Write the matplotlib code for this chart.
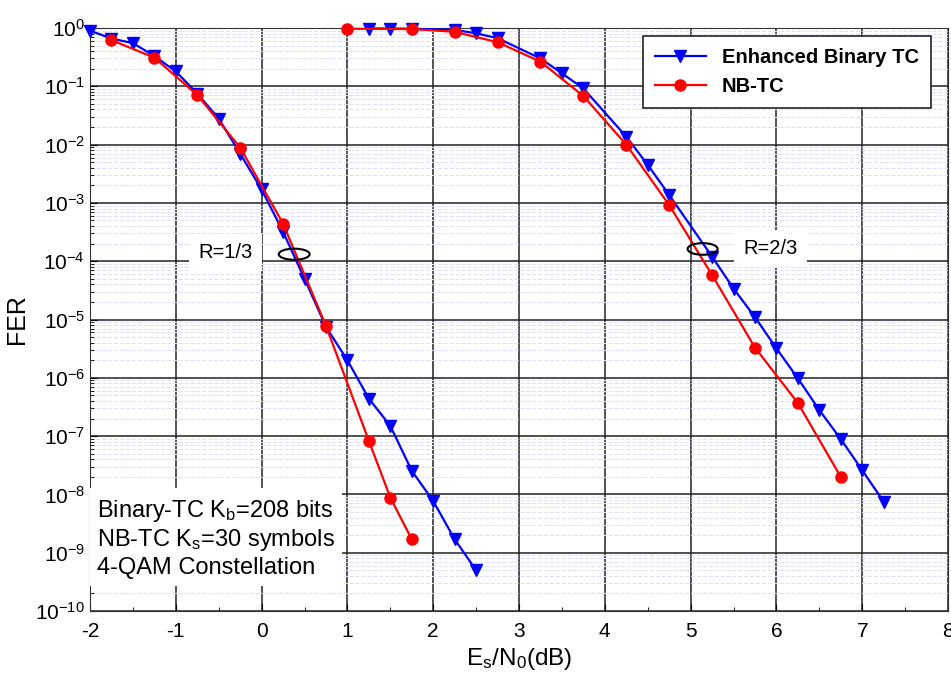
import matplotlib.pyplot as plt
from matplotlib.patches import Ellipse
from matplotlib.ticker import LogLocator, MultipleLocator, NullFormatter

plt.rcParams['font.family'] = 'Liberation Sans'
plt.rcParams['mathtext.fontset'] = 'custom'
plt.rcParams['mathtext.rm'] = 'Liberation Sans'
plt.rcParams['mathtext.it'] = 'Liberation Sans:italic'
plt.rcParams['axes.unicode_minus'] = False

# R=1/3
snr_bin_13 = [-2, -1.75, -1.5, -1.25, -1, -0.75, -0.5, -0.25, 0, 0.25, 0.5, 0.75,
              1, 1.25, 1.5, 1.75, 2, 2.25, 2.5]
fer_bin_13 = [0.9, 0.66, 0.55, 0.33, 0.18, 0.075, 0.028, 0.007, 1.7e-3, 3.2e-4, 5.0e-5, 7.5e-6,
              2.0e-6, 4.4e-7, 1.5e-7, 2.55e-8, 7.7e-9, 1.7e-9, 5.0e-10]
snr_nb_13 = [-1.75, -1.25, -0.75, -0.25, 0.25, 0.75, 1.25, 1.5, 1.75]
fer_nb_13 = [0.62, 0.31, 0.071, 0.0089, 4.4e-4, 7.8e-6, 8.3e-8, 8.8e-9, 1.7e-9]

# R=2/3
snr_bin_23 = [1.25, 1.5, 1.75, 2.25, 2.5, 2.75, 3.25, 3.5, 3.75, 4.25, 4.5, 4.75,
              5.25, 5.5, 5.75, 6, 6.25, 6.5, 6.75, 7, 7.25]
fer_bin_23 = [0.98, 0.98, 0.97, 0.93, 0.81, 0.67, 0.30, 0.167, 0.092, 0.0137, 0.0045, 1.37e-3,
              1.2e-4, 3.4e-5, 1.1e-5, 3.2e-6, 9.8e-7, 2.8e-7, 8.9e-8, 2.6e-8, 7.5e-9]
snr_nb_23 = [1.0, 1.75, 2.25, 2.75, 3.25, 3.75, 4.25, 4.75, 5.25, 5.75, 6.25, 6.75]
fer_nb_23 = [0.97, 0.96, 0.86, 0.57, 0.265, 0.068, 0.010, 9.2e-4, 5.8e-5, 3.3e-6, 3.7e-7, 2.0e-8]

fig = plt.figure(figsize=(9.51, 6.75), dpi=100)
ax = fig.add_axes([90/951, 1-611/675, 858/951, 583/675])

blue = dict(color='#0000ff', marker='v', markersize=8.5, linewidth=1.6, clip_on=False, zorder=4)
red = dict(color='#ff0000', marker='o', markersize=8, linewidth=1.6, clip_on=False, zorder=5)
ax.plot(snr_bin_13, fer_bin_13, label='Enhanced Binary TC', **blue)
ax.plot(snr_bin_23, fer_bin_23, **blue)
ax.plot(snr_nb_13, fer_nb_13, label='NB-TC', **red)
ax.plot(snr_nb_23, fer_nb_23, **red)

ax.set_yscale('log')
ax.set_xlim(-2, 8)
ax.set_ylim(1e-10, 1)
ax.xaxis.set_major_locator(MultipleLocator(1))
ax.xaxis.set_minor_locator(MultipleLocator(0.5))
ax.yaxis.set_major_locator(LogLocator(base=10, numticks=20))
ax.yaxis.set_minor_locator(LogLocator(base=10, subs=range(2, 10), numticks=20))
ax.yaxis.set_minor_formatter(NullFormatter())
ax.tick_params(which='both', direction='in')
ax.tick_params(axis='x', labelsize=15, pad=8)
ax.tick_params(axis='y', labelsize=15)
ax.tick_params(which='major', length=5)
ax.tick_params(which='minor', length=3)

ax.grid(which='major', axis='both', color='#222222', linewidth=1.1)
ax.grid(which='minor', axis='y', color='#e0e0f8', linestyle='--', linewidth=0.8)
ax.set_axisbelow(True)
for s in ax.spines.values():
    s.set_color('#333333')

ax.set_ylabel('FER', fontsize=18)
ax.yaxis.set_label_coords(-0.071, 0.5)
ax.set_xlabel(r'E$_\mathrm{s}$/N$_0$(dB)', fontsize=17.5)
ax.xaxis.set_label_coords(0.5, -0.06)

leg = ax.legend(loc='upper right', bbox_to_anchor=(0.98, 0.986), borderaxespad=0, fancybox=False,
                edgecolor='#222222', framealpha=1, handlelength=2.5,
                prop={'weight': 'bold', 'size': 14.5}, borderpad=0.6)
leg.get_frame().set_linewidth(1.2)

# rate annotations
ax.text(0.158, 0.615, 'R=1/3', transform=ax.transAxes, fontsize=14.5, ha='center', va='center',
        bbox=dict(facecolor='white', edgecolor='none', boxstyle='square,pad=0.45'), zorder=3)
ax.add_patch(Ellipse((0.238, 0.612), 0.036, 0.019, transform=ax.transAxes,
                     fill=False, edgecolor='black', linewidth=1.5, zorder=6))
ax.text(0.793, 0.622, 'R=2/3', transform=ax.transAxes, fontsize=14.5, ha='center', va='center',
        bbox=dict(facecolor='white', edgecolor='none', boxstyle='square,pad=0.45'), zorder=3)
ax.add_patch(Ellipse((0.714, 0.621), 0.035, 0.02, transform=ax.transAxes,
                     fill=False, edgecolor='black', linewidth=1.5, zorder=6))

ax.text(0.008, 0.125, 'Binary-TC K$_\\mathrm{b}$=208 bits\nNB-TC K$_\\mathrm{s}$=30 symbols\n4-QAM Constellation',
        transform=ax.transAxes, fontsize=17, ha='left', va='center', linespacing=1.2,
        bbox=dict(facecolor='white', edgecolor='none', boxstyle='square,pad=0.3'), zorder=3)

plt.savefig('out.png', dpi=100)
